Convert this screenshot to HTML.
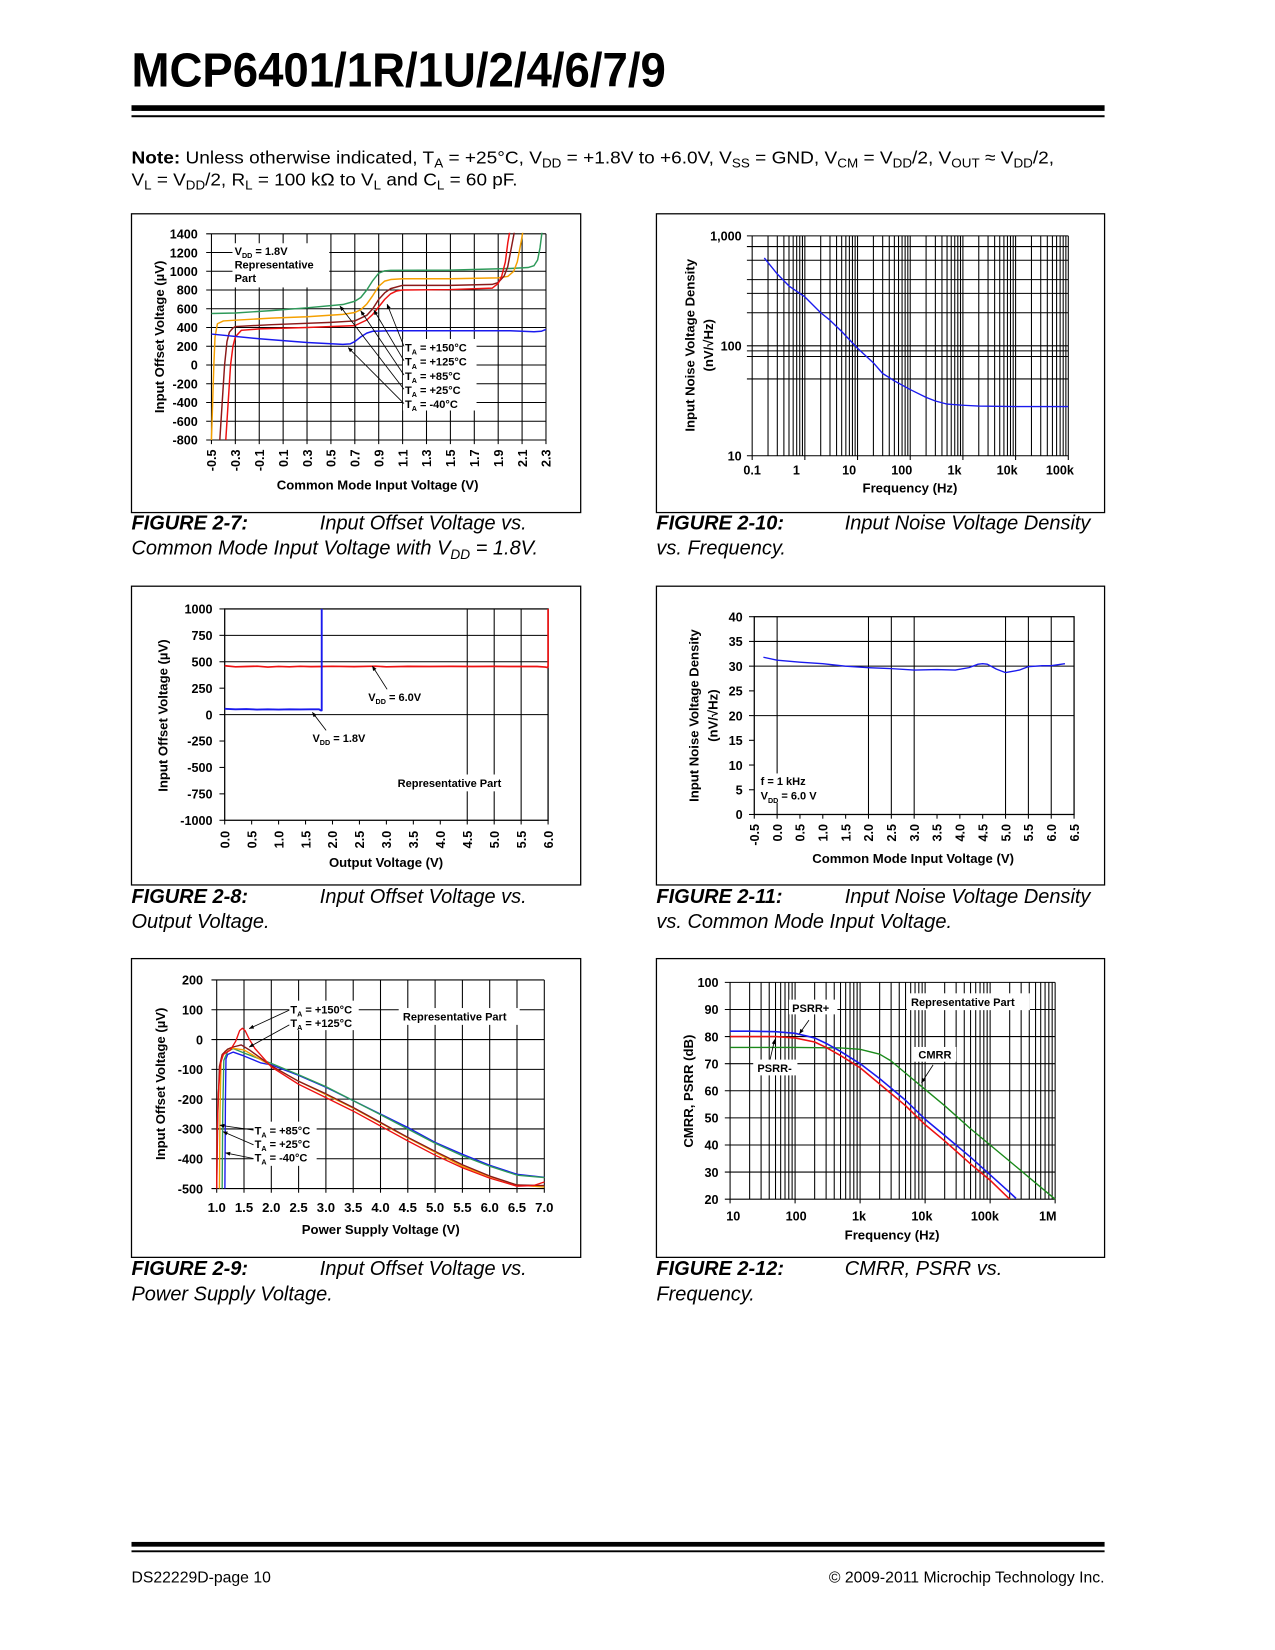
<!DOCTYPE html>
<html><head><meta charset="utf-8"><title>MCP6401 datasheet page 10</title>
<style>
html,body{margin:0;padding:0;background:#fff;}
svg{display:block;font-family:"Liberation Sans",Arial,sans-serif;}
</style></head>
<body>
<svg id="page" xmlns="http://www.w3.org/2000/svg" width="1275" height="1650" viewBox="0 0 1212 1568">
<defs>
<marker id="ah" viewBox="0 0 10 10" refX="9" refY="5" markerWidth="6" markerHeight="6" orient="auto"><path d="M0,1 L10,5 L0,9 z" fill="#000"/></marker>
</defs>
<rect x="0" y="0" width="1212" height="1568" fill="#fff"/>
<text x="125" y="82" font-size="46" font-weight="bold" textLength="508" lengthAdjust="spacingAndGlyphs">MCP6401/1R/1U/2/4/6/7/9</text>
<rect x="125" y="99.8" width="925" height="5.4" fill="#000"/>
<rect x="125" y="109.3" width="925" height="1.9" fill="#000"/>
<text x="125" y="155" font-size="17" textLength="877" lengthAdjust="spacingAndGlyphs"><tspan font-weight="bold">Note:</tspan> Unless otherwise indicated, T<tspan font-size="12" dy="4">A</tspan><tspan dy="-4"> = +25°C, V</tspan><tspan font-size="12" dy="4">DD</tspan><tspan dy="-4"> = +1.8V to +6.0V, V</tspan><tspan font-size="12" dy="4">SS</tspan><tspan dy="-4"> = GND, V</tspan><tspan font-size="12" dy="4">CM</tspan><tspan dy="-4"> = V</tspan><tspan font-size="12" dy="4">DD</tspan><tspan dy="-4">/2, V</tspan><tspan font-size="12" dy="4">OUT</tspan><tspan dy="-4"> ≈ V</tspan><tspan font-size="12" dy="4">DD</tspan><tspan dy="-4">/2,</tspan></text>
<text x="125" y="176" font-size="17" textLength="367" lengthAdjust="spacingAndGlyphs">V<tspan font-size="12" dy="4">L</tspan><tspan dy="-4"> = V</tspan><tspan font-size="12" dy="4">DD</tspan><tspan dy="-4">/2, R</tspan><tspan font-size="12" dy="4">L</tspan><tspan dy="-4"> = 100 kΩ to V</tspan><tspan font-size="12" dy="4">L</tspan><tspan dy="-4"> and C</tspan><tspan font-size="12" dy="4">L</tspan><tspan dy="-4"> = 60 pF.</tspan></text>

<g font-size="19" font-style="italic">
<text x="125" y="503" font-weight="bold">FIGURE 2-7:</text>
<text x="304" y="503">Input Offset Voltage vs.</text>
<text x="125" y="527">Common Mode Input Voltage with V<tspan font-size="13" dy="4">DD</tspan><tspan dy="-4"> = 1.8V.</tspan></text>
<text x="624" y="503" font-weight="bold">FIGURE 2-10:</text>
<text x="803" y="503">Input Noise Voltage Density</text>
<text x="624" y="527">vs. Frequency.</text>
<text x="125" y="858" font-weight="bold">FIGURE 2-8:</text>
<text x="304" y="858">Input Offset Voltage vs.</text>
<text x="125" y="882">Output Voltage.</text>
<text x="624" y="858" font-weight="bold">FIGURE 2-11:</text>
<text x="803" y="858">Input Noise Voltage Density</text>
<text x="624" y="882">vs. Common Mode Input Voltage.</text>
<text x="125" y="1212" font-weight="bold">FIGURE 2-9:</text>
<text x="304" y="1212">Input Offset Voltage vs.</text>
<text x="125" y="1236">Power Supply Voltage.</text>
<text x="624" y="1212" font-weight="bold">FIGURE 2-12:</text>
<text x="803" y="1212">CMRR, PSRR vs.</text>
<text x="624" y="1236">Frequency.</text>
</g>

<rect x="125" y="1465.5" width="925" height="4.5" fill="#000"/>
<rect x="125" y="1473.5" width="925" height="1.8" fill="#000"/>
<text x="125" y="1504" font-size="15">DS22229D-page 10</text>
<text x="1050" y="1504" font-size="15" text-anchor="end">© 2009-2011 Microchip Technology Inc.</text>
<g id="charts"></g>
</svg>
<script>
// ---------- Figure 2-7 data ----------
const c7XTicks = [-0.5,-0.3,-0.1,0.1,0.3,0.5,0.7,0.9,1.1,1.3,1.5,1.7,1.9,2.1,2.3];
const c7YTicks = [-800,-600,-400,-200,0,200,400,600,800,1000,1200,1400];
const c7GreenX = [-0.5,-0.3,0,0.3,0.6,0.7,0.75,0.8,0.85,0.9,0.95,1.0,1.5,2.0,2.15,2.2,2.23,2.25,2.27];
const c7GreenY = [550,555,580,610,645,680,720,800,900,980,1005,1010,1012,1030,1040,1060,1120,1250,1450];
const c7OrangeX = [-0.5,-0.49,-0.48,-0.47,-0.45,-0.4,-0.3,0,0.3,0.6,0.7,0.75,0.8,0.85,0.9,0.95,1.0,1.1,1.5,1.9,1.98,2.03,2.06,2.09,2.11];
const c7OrangeY = [-800,-400,0,300,440,470,478,500,515,540,560,590,650,740,840,895,912,920,920,930,945,1000,1100,1300,1450];
const c7BrownX = [-0.43,-0.41,-0.39,-0.37,-0.35,-0.32,-0.3,0,0.5,0.7,0.8,0.85,0.9,0.95,1.0,1.1,1.5,1.85,1.9,1.95,1.98,2.01,2.04];
const c7BrownY = [-800,-400,0,250,350,395,410,430,455,470,530,600,700,770,815,850,850,860,880,950,1050,1250,1450];
const c7RedX = [-0.38,-0.36,-0.34,-0.32,-0.3,-0.25,-0.1,0.3,0.7,0.8,0.85,0.9,0.95,1.0,1.05,1.1,1.5,1.85,1.9,1.93,1.96,1.98,2.0];
const c7RedY = [-800,-400,0,200,300,370,385,400,420,480,540,620,700,760,790,800,805,820,870,950,1100,1300,1450];
const c7BlueX = [-0.5,-0.1,0.3,0.6,0.66,0.7,0.75,0.8,0.85,1.0,1.5,2.0,2.2,2.26,2.3];
const c7BlueY = [330,280,240,220,225,250,300,340,360,365,365,365,355,360,380];
// ---------- Figure 2-10 data ----------
const c10Freq = [0.17,0.3,0.5,1,2,3,5,10,20,30,50,100,200,300,500,1000,2000,10000,100000];
const c10Noise = [630,450,350,279,200,171,135,95,70,56,48,40,34,31.5,29.5,28.8,28.3,28,28];
const c10HGrid = [1000,800,600,400,300,200,100,90,80,50];
const c10YTickVals = [1000,100,10];
const c10YLabels = ['1,000','100','10'];
const c10XTickVals = [0.1,1,10,100,1000,10000,100000];
const c10XLabels = ['0.1','1','10','100','1k','10k','100k'];
// ---------- Figure 2-8 data ----------
const c8XTicks = [0,0.5,1,1.5,2,2.5,3,3.5,4,4.5,5,5.5,6];
const c8XLabels = ['0.0','0.5','1.0','1.5','2.0','2.5','3.0','3.5','4.0','4.5','5.0','5.5','6.0'];
const c8YTicks = [-1000,-750,-500,-250,0,250,500,750,1000];
const c8VGrid = [4.5,5,5.5];
const c8HGrid = [750,500,0];
const c8RedX = [0,0.2,0.4,0.6,0.8,1,1.2,1.4,1.6,1.8,2,2.4,2.8,3,3.4,3.8,4.2,4.6,5,5.4,5.8,5.95,5.99,6,6];
const c8RedY = [462,452,455,458,450,456,452,457,454,455,457,454,458,452,456,455,456,455,456,455,455,450,445,460,1000];
const c8BlueX = [0,0.2,0.4,0.6,0.8,1,1.2,1.4,1.6,1.75,1.78,1.8,1.8];
const c8BlueY = [55,50,52,48,50,48,50,49,50,50,40,40,1000];
// ---------- Figure 2-11 data ----------
const c11XTicks = [-0.5,0,0.5,1,1.5,2,2.5,3,3.5,4,4.5,5,5.5,6,6.5];
const c11XLabels = ['-0.5','0.0','0.5','1.0','1.5','2.0','2.5','3.0','3.5','4.0','4.5','5.0','5.5','6.0','6.5'];
const c11YTicks = [0,5,10,15,20,25,30,35,40];
const c11VGrid = [0,2,2.5,3,5,5.5,6];
const c11HGrid = [35,30,20];
const c11Vcm = [-0.3,0,0.5,1,1.5,2,2.5,3,3.5,3.9,4.2,4.4,4.5,4.6,4.8,5,5.3,5.5,5.8,6,6.3];
const c11Noise = [31.8,31.2,30.8,30.5,30,29.7,29.5,29.2,29.3,29.2,29.7,30.4,30.5,30.4,29.4,28.7,29.2,29.9,30.1,30.1,30.5];
// ---------- Figure 2-9 data ----------
const c9XTicks = [1,1.5,2,2.5,3,3.5,4,4.5,5,5.5,6,6.5,7];
const c9XLabels = ['1.0','1.5','2.0','2.5','3.0','3.5','4.0','4.5','5.0','5.5','6.0','6.5','7.0'];
const c9YTicks = [-500,-400,-300,-200,-100,0,100,200];
const c9BlueX = [1.15,1.16,1.17,1.2,1.3,1.5,1.8,2,2.5,3,3.5,4,4.5,5,5.5,6,6.5,7];
const c9BlueY = [-500,-200,-65,-50,-42,-55,-78,-85,-120,-160,-205,-250,-295,-345,-385,-422,-452,-462];
const c9GreenX = [1.1,1.11,1.13,1.2,1.3,1.5,2,2.5,3,3.5,4,4.5,5,5.5,6,6.5,7];
const c9GreenY = [-500,-250,-70,-40,-30,-45,-80,-118,-158,-205,-252,-300,-348,-390,-425,-455,-463];
const c9OrangeX = [1.05,1.06,1.08,1.15,1.25,1.5,2,2.5,3,3.5,4,4.5,5,5.5,6,6.5,7];
const c9OrangeY = [-500,-250,-70,-40,-28,-35,-88,-140,-185,-230,-280,-330,-378,-425,-460,-488,-495];
const c9BrownX = [1.0,1.02,1.05,1.1,1.2,1.3,1.45,1.6,2,2.5,3,3.5,4,4.5,5,5.5,6,6.5,7];
const c9BrownY = [-500,-250,-90,-50,-32,-25,-18,-35,-88,-140,-182,-228,-278,-328,-375,-420,-458,-488,-490];
const c9RedX = [1.0,1.01,1.03,1.07,1.12,1.25,1.35,1.42,1.47,1.52,1.6,1.7,2,2.5,3,3.5,4,4.5,5,5.5,6,6.5,6.8,7];
const c9RedY = [-500,-300,-180,-80,-50,-35,-5,30,38,30,0,-30,-92,-150,-195,-240,-290,-340,-388,-430,-465,-492,-490,-478];
// ---------- Figure 2-12 data ----------
const c12YTicks = [20,30,40,50,60,70,80,90,100];
const c12XTickVals = [10,100,1000,10000,100000,1000000];
const c12XLabels = ['10','100','1k','10k','100k','1M'];
const c12PsrrPFreq = [10,20,50,100,200,300,500,1000,2000,5000,10000,20000,50000,100000,200000,250000];
const c12PsrrP = [82,82,81.8,81.2,79.5,77.5,74.5,70,64.5,56.5,49.5,43.5,35.5,29,22.5,20.3];
const c12PsrrMFreq = [10,50,100,200,300,500,1000,2000,5000,10000,20000,50000,100000,200000];
const c12PsrrM = [80,80,79.5,78,76,73,68.5,62.5,54.5,47.5,41.5,33,27,20];
const c12CmrrFreq = [10,100,500,1000,2000,3000,5000,10000,20000,50000,100000,200000,500000,1000000];
const c12Cmrr = [76,76,75.8,75.3,73.5,71,66.5,60.5,54.5,46,40,34,26,20];

const NS = 'http://www.w3.org/2000/svg';
const root = document.getElementById('charts');
const defs = document.querySelector('defs');
function mk(tag, parent, name) {
  const el = document.createElementNS(NS, tag);
  
  
  parent.appendChild(el);
  return el;
}
function at(el, o) { for (const k in o) el.setAttribute(k, o[k]); return el; }
function lin(d0, d1, r0, r1) { return v => r0 + (v - d0) / (d1 - d0) * (r1 - r0); }
function lg(d0, d1, r0, r1) { const a = Math.log10(d0), b = Math.log10(d1); return v => r0 + (Math.log10(v) - a) / (b - a) * (r1 - r0); }
function line(p, x1, y1, x2, y2, c, w, name) { return at(mk('line', p, name), {x1, y1, x2, y2, stroke: c, 'stroke-width': w}); }
function rect(p, x, y, w, h, fill, stroke, name) { return at(mk('rect', p, name), {x, y, width: w, height: h, fill: fill, stroke: stroke || 'none', 'stroke-width': 1.2}); }
function rich(el, str, size) {
  const parts = str.split(/(_\{[^}]*\})/);
  let down = false;
  for (const part of parts) {
    if (!part) continue;
    const ts = document.createElementNS(NS, 'tspan');
    
    
    if (part.startsWith('_{')) { ts.textContent = part.slice(2, -1); ts.setAttribute('font-size', size * 0.65); ts.setAttribute('dy', size * 0.28); down = true; }
    else { ts.textContent = part; if (down) { ts.setAttribute('dy', -size * 0.28); down = false; } }
    el.appendChild(ts);
  }
}
function txt(p, x, y, str, size, anchor, rot, name) {
  const el = mk('text', p, name);
  at(el, {x, y, 'font-size': size, 'font-weight': 'bold', 'text-anchor': anchor || 'start'});
  if (rot) el.setAttribute('transform', 'rotate(-90 ' + x + ' ' + y + ')');
  rich(el, str, size);
  return el;
}
function clip(id, x0, y0, x1, y1) {
  const cp = mk('clipPath', defs, 'plot-clip');
  cp.setAttribute('id', id);
  rect(cp, x0 - 1, y0 - 1, x1 - x0 + 2, y1 - y0 + 2, '#000', null, 'plot-clip-rect');
}
function series(p, xs, ys, sx, sy, color, w, name, clipId) {
  let d = '';
  for (let i = 0; i < xs.length; i++) d += (i ? 'L' : 'M') + sx(xs[i]).toFixed(2) + ',' + sy(ys[i]).toFixed(2);
  const el = mk('path', p, name);
  at(el, {d, fill: 'none', stroke: color, 'stroke-width': w, 'stroke-linejoin': 'round', 'clip-path': 'url(#' + clipId + ')'});
  return el;
}
function arrow(p, x1, y1, x2, y2, name) {
  const el = line(p, x1, y1, x2, y2, '#000', 0.8, name);
  el.setAttribute('marker-end', 'url(#ah)');
  return el;
}
const GREEN = '#2e9a5a', ORANGE = '#f5a000', BROWN = '#8b1a1a', RED = '#ee1111', BLUE = '#1a1aee';

// ================= Figure 2-7 =================
(function () {
  const g = mk('g', root, 'figure-2-7-chart');
  rect(g, 125, 203, 427, 284, '#fff', '#000', 'chart-frame');
  const X0 = 201, X1 = 519, Y0 = 222, Y1 = 418;
  const sx = lin(-0.5, 2.3, X0, X1), sy = lin(-800, 1400, Y1, Y0);
  clip('clip7', X0, Y0, X1, Y1);
  c7XTicks.forEach(v => { line(g, sx(v), Y0, sx(v), Y1 + 4, '#000', 1, 'x-gridline'); });
  c7YTicks.forEach(v => { line(g, X0 - 5, sy(v), X1, sy(v), '#000', 1, 'y-gridline'); });
  c7YTicks.forEach(v => { txt(g, 188, sy(v) + 4.5, String(v), 12, 'end', false, 'y-tick-label'); });
  c7XTicks.forEach(v => { txt(g, sx(v) + 4.5, Y1 + 9, v.toFixed(1), 12, 'end', true, 'x-tick-label'); });
  txt(g, 156, 320, 'Input Offset Voltage (µV)', 12.5, 'middle', true, 'y-axis-title');
  txt(g, 359, 465, 'Common Mode Input Voltage (V)', 12.5, 'middle', false, 'x-axis-title');
  rect(g, 221, 231, 92, 42, '#fff', null, 'annotation-background');
  txt(g, 223, 242, 'V_{DD} = 1.8V', 10.5, 'start', false, 'vdd-annotation');
  txt(g, 223, 255, 'Representative', 10.5, 'start', false, 'representative-part-annotation');
  txt(g, 223, 268, 'Part', 10.5, 'start', false, 'representative-part-annotation');
  series(g, c7GreenX, c7GreenY, sx, sy, GREEN, 1.4, 'series-green', 'clip7');
  series(g, c7OrangeX, c7OrangeY, sx, sy, ORANGE, 1.4, 'series-orange', 'clip7');
  series(g, c7BrownX, c7BrownY, sx, sy, BROWN, 1.4, 'series-brown', 'clip7');
  series(g, c7RedX, c7RedY, sx, sy, RED, 1.4, 'series-red', 'clip7');
  series(g, c7BlueX, c7BlueY, sx, sy, BLUE, 1.4, 'series-blue', 'clip7');
  rect(g, 383, 322, 70, 68, '#fff', null, 'legend-background');
  const labs = ['T_{A} = +150°C', 'T_{A} = +125°C', 'T_{A} = +85°C', 'T_{A} = +25°C', 'T_{A} = -40°C'];
  const heads = [[368, 289], [355.5, 294.7], [343, 295.3], [323.2, 290.8], [331, 330.2]];
  labs.forEach((s, i) => {
    txt(g, 385, 334 + i * 13.4, s, 10.5, 'start', false, 'legend-entry');
    arrow(g, 384, 329 + i * 13.6, heads[i][0], heads[i][1], 'legend-arrow');
  });
})();

// ================= Figure 2-10 =================
(function () {
  const g = mk('g', root, 'figure-2-10-chart');
  rect(g, 624, 203, 426, 284, '#fff', '#000', 'chart-frame');
  const X0 = 715, X1 = 1015.5, Y0 = 224, Y1 = 433;
  const sx = lg(0.1, 100000, X0, X1), sy = lg(10, 1000, Y1, Y0);
  clip('clip10', X0, Y0, X1, Y1);
  [0.1, 1, 10, 100, 1000, 10000].forEach(dec => {
    for (let k = 1; k <= 9; k++) line(g, sx(dec * k), Y0, sx(dec * k), Y1 + (k === 1 ? 4 : 0), '#000', 1, 'x-gridline');
  });
  line(g, X1, Y0, X1, Y1 + 4, '#000', 1, 'x-gridline');
  c10HGrid.forEach(v => { line(g, X0 - 5, sy(v), X1, sy(v), '#000', 1, 'y-gridline'); });
  line(g, X0 - 5, Y1, X1, Y1, '#000', 1, 'x-axis');
  c10YTickVals.forEach((v, i) => { txt(g, 705, sy(v) + 4.5, c10YLabels[i], 12, 'end', false, 'y-tick-label'); });
  c10XTickVals.forEach((v, i) => { txt(g, i === 0 ? sx(v) : sx(v) - 8, 451, c10XLabels[i], 12, 'middle', false, 'x-tick-label'); });
  txt(g, 660, 328, 'Input Noise Voltage Density', 12.5, 'middle', true, 'y-axis-title');
  txt(g, 678, 328, '(nV/√Hz)', 12.5, 'middle', true, 'y-axis-title-units');
  txt(g, 865, 468, 'Frequency (Hz)', 12.5, 'middle', false, 'x-axis-title');
  series(g, c10Freq, c10Noise, sx, sy, BLUE, 1.3, 'noise-density-series', 'clip10');
})();

// ================= Figure 2-8 =================
(function () {
  const g = mk('g', root, 'figure-2-8-chart');
  rect(g, 125, 557, 427, 284, '#fff', '#000', 'chart-frame');
  const X0 = 213.6, X1 = 521, Y0 = 578.6, Y1 = 779.5;
  const sx = lin(0, 6, X0, X1), sy = lin(-1000, 1000, Y1, Y0);
  clip('clip8', X0, Y0, X1, Y1 + 2);
  rect(g, X0, Y0, X1 - X0, Y1 - Y0, 'none', '#000', 'plot-border');
  c8VGrid.forEach(v => { line(g, sx(v), Y0, sx(v), Y1, '#000', 1, 'x-gridline'); });
  c8HGrid.forEach(v => { line(g, X0, sy(v), X1, sy(v), '#000', 1, 'y-gridline'); });
  c8YTicks.forEach(v => { line(g, X0 - 5, sy(v), X0, sy(v), '#000', 1, 'y-tick'); txt(g, 202, sy(v) + 4.5, String(v), 12, 'end', false, 'y-tick-label'); });
  c8XTicks.forEach((v, i) => { line(g, sx(v), Y1, sx(v), Y1 + 4, '#000', 1, 'x-tick'); txt(g, sx(v) + 4.5, Y1 + 10, c8XLabels[i], 12, 'end', true, 'x-tick-label'); });
  txt(g, 159, 680, 'Input Offset Voltage (µV)', 12.5, 'middle', true, 'y-axis-title');
  txt(g, 367, 824, 'Output Voltage (V)', 12.5, 'middle', false, 'x-axis-title');
  rect(g, 374, 736, 117, 16, '#fff', null, 'annotation-background');
  txt(g, 378, 748, 'Representative Part', 10.5, 'start', false, 'representative-part-annotation');
  series(g, c8RedX, c8RedY, sx, sy, RED, 1.6, 'vdd-6v-series', 'clip8');
  series(g, c8BlueX, c8BlueY, sx, sy, BLUE, 1.8, 'vdd-1.8v-series', 'clip8');
  txt(g, 350, 666, 'V_{DD} = 6.0V', 10.5, 'start', false, 'vdd-6v-label');
  arrow(g, 368, 655, 354, 633, 'vdd-6v-arrow');
  txt(g, 297, 705, 'V_{DD} = 1.8V', 10.5, 'start', false, 'vdd-1.8v-label');
  arrow(g, 310, 694, 297, 677, 'vdd-1.8v-arrow');
})();

// ================= Figure 2-11 =================
(function () {
  const g = mk('g', root, 'figure-2-11-chart');
  rect(g, 624, 557, 426, 284, '#fff', '#000', 'chart-frame');
  const X0 = 717, X1 = 1021, Y0 = 586, Y1 = 774;
  const sx = lin(-0.5, 6.5, X0, X1), sy = lin(0, 40, Y1, Y0);
  clip('clip11', X0, Y0, X1, Y1);
  rect(g, X0, Y0, X1 - X0, Y1 - Y0, 'none', '#000', 'plot-border');
  c11VGrid.forEach(v => { line(g, sx(v), Y0, sx(v), Y1, '#000', 1, 'x-gridline'); });
  c11HGrid.forEach(v => { line(g, X0, sy(v), X1, sy(v), '#000', 1, 'y-gridline'); });
  c11YTicks.forEach(v => { line(g, X0 - 5, sy(v), X0, sy(v), '#000', 1, 'y-tick'); txt(g, 706, sy(v) + 4.5, String(v), 12, 'end', false, 'y-tick-label'); });
  c11XTicks.forEach((v, i) => { line(g, sx(v), Y1, sx(v), Y1 + 4, '#000', 1, 'x-tick'); txt(g, sx(v) + 4.5, Y1 + 9, c11XLabels[i], 12, 'end', true, 'x-tick-label'); });
  txt(g, 664, 680, 'Input Noise Voltage Density', 12.5, 'middle', true, 'y-axis-title');
  txt(g, 682, 680, '(nV/√Hz)', 12.5, 'middle', true, 'y-axis-title-units');
  txt(g, 868, 820, 'Common Mode Input Voltage (V)', 12.5, 'middle', false, 'x-axis-title');
  rect(g, 720, 735, 62, 28, '#fff', null, 'annotation-background');
  txt(g, 723, 746, 'f = 1 kHz', 10.5, 'start', false, 'frequency-annotation');
  txt(g, 723, 760, 'V_{DD} = 6.0 V', 10.5, 'start', false, 'vdd-annotation');
  series(g, c11Vcm, c11Noise, sx, sy, BLUE, 1.3, 'noise-vs-vcm-series', 'clip11');
})();

// ================= Figure 2-9 =================
(function () {
  const g = mk('g', root, 'figure-2-9-chart');
  rect(g, 125, 911, 427, 284, '#fff', '#000', 'chart-frame');
  const X0 = 206, X1 = 517.4, Y0 = 931.3, Y1 = 1129.6;
  const sx = lin(1, 7, X0, X1), sy = lin(-500, 200, Y1, Y0);
  clip('clip9', X0, Y0, X1, Y1);
  c9XTicks.forEach((v, i) => { line(g, sx(v), Y0, sx(v), Y1 + 4, '#000', 1, 'x-gridline'); txt(g, sx(v), 1152, c9XLabels[i], 12.5, 'middle', false, 'x-tick-label'); });
  c9YTicks.forEach(v => { line(g, X0 - 5, sy(v), X1, sy(v), '#000', 1, 'y-gridline'); txt(g, 193, sy(v) + 4.5, String(v), 12, 'end', false, 'y-tick-label'); });
  txt(g, 157, 1030, 'Input Offset Voltage (µV)', 12.5, 'middle', true, 'y-axis-title');
  txt(g, 362, 1173, 'Power Supply Voltage (V)', 12.5, 'middle', false, 'x-axis-title');
  rect(g, 379, 958, 115, 16, '#fff', null, 'annotation-background');
  txt(g, 383, 970, 'Representative Part', 10.5, 'start', false, 'representative-part-annotation');
  series(g, c9BlueX, c9BlueY, sx, sy, BLUE, 1.3, 'series-minus40c', 'clip9');
  series(g, c9GreenX, c9GreenY, sx, sy, GREEN, 1.3, 'series-25c', 'clip9');
  series(g, c9OrangeX, c9OrangeY, sx, sy, ORANGE, 1.3, 'series-85c', 'clip9');
  series(g, c9BrownX, c9BrownY, sx, sy, BROWN, 1.3, 'series-125c', 'clip9');
  series(g, c9RedX, c9RedY, sx, sy, RED, 1.3, 'series-150c', 'clip9');
  rect(g, 275, 951, 66, 28, '#fff', null, 'legend-background');
  txt(g, 276, 963, 'T_{A} = +150°C', 10.5, 'start', false, 'legend-entry');
  txt(g, 276, 976, 'T_{A} = +125°C', 10.5, 'start', false, 'legend-entry');
  arrow(g, 275, 960, 237, 977.5, 'legend-arrow');
  arrow(g, 275, 974, 237, 995, 'legend-arrow');
  rect(g, 241, 1066, 60, 42, '#fff', null, 'legend-background');
  txt(g, 242, 1078, 'T_{A} = +85°C', 10.5, 'start', false, 'legend-entry');
  txt(g, 242, 1091, 'T_{A} = +25°C', 10.5, 'start', false, 'legend-entry');
  txt(g, 242, 1104, 'T_{A} = -40°C', 10.5, 'start', false, 'legend-entry');
  arrow(g, 241, 1074, 209, 1069.4, 'legend-arrow');
  arrow(g, 241, 1088, 212, 1075.5, 'legend-arrow');
  arrow(g, 241, 1101, 214.5, 1095.7, 'legend-arrow');
})();

// ================= Figure 2-12 =================
(function () {
  const g = mk('g', root, 'figure-2-12-chart');
  rect(g, 624, 911, 426, 284, '#fff', '#000', 'chart-frame');
  const X0 = 694, X1 = 1003, Y0 = 933.6, Y1 = 1139.7;
  const sx = lg(10, 1000000, X0, X1), sy = lin(20, 100, Y1, Y0);
  clip('clip12', X0, Y0, X1, Y1);
  [10, 100, 1000, 10000, 100000].forEach(dec => {
    for (let k = 1; k <= 9; k++) line(g, sx(dec * k), Y0, sx(dec * k), Y1 + (k === 1 ? 4 : 0), '#000', 1, 'x-gridline');
  });
  line(g, X1, Y0, X1, Y1 + 4, '#000', 1, 'x-gridline');
  c12YTicks.forEach(v => { line(g, X0 - 5, sy(v), X1, sy(v), '#000', 1, 'y-gridline'); txt(g, 683, sy(v) + 4.5, String(v), 12, 'end', false, 'y-tick-label'); });
  c12XTickVals.forEach((v, i) => { txt(g, sx(v) + 3 - i * 2, 1160, c12XLabels[i], 12, 'middle', false, 'x-tick-label'); });
  txt(g, 659, 1037, 'CMRR, PSRR (dB)', 12.5, 'middle', true, 'y-axis-title');
  txt(g, 848, 1178, 'Frequency (Hz)', 12.5, 'middle', false, 'x-axis-title');
  rect(g, 862, 944, 117, 16, '#fff', null, 'annotation-background');
  txt(g, 866, 956, 'Representative Part', 10.5, 'start', false, 'representative-part-annotation');
  rect(g, 750, 950, 46, 14, '#fff', null, 'label-background');
  rect(g, 716, 1007, 42, 15, '#fff', null, 'label-background');
  rect(g, 869, 995, 40, 14, '#fff', null, 'label-background');
  series(g, c12CmrrFreq, c12Cmrr, sx, sy, '#1a8a1a', 1.3, 'cmrr-series', 'clip12');
  series(g, c12PsrrPFreq, c12PsrrP, sx, sy, BLUE, 1.5, 'psrr-plus-series', 'clip12');
  series(g, c12PsrrMFreq, c12PsrrM, sx, sy, RED, 1.5, 'psrr-minus-series', 'clip12');
  txt(g, 753, 962, 'PSRR+', 10.5, 'start', false, 'psrr-plus-label');
  txt(g, 720, 1019, 'PSRR-', 10.5, 'start', false, 'psrr-minus-label');
  txt(g, 873, 1006, 'CMRR', 10.5, 'start', false, 'cmrr-label');
  arrow(g, 769, 969.5, 760, 982.3, 'psrr-plus-arrow');
  arrow(g, 732, 1007, 736.4, 988, 'psrr-minus-arrow');
  arrow(g, 887, 1012, 876, 1029, 'cmrr-arrow');
})();
</script>
</body></html>
